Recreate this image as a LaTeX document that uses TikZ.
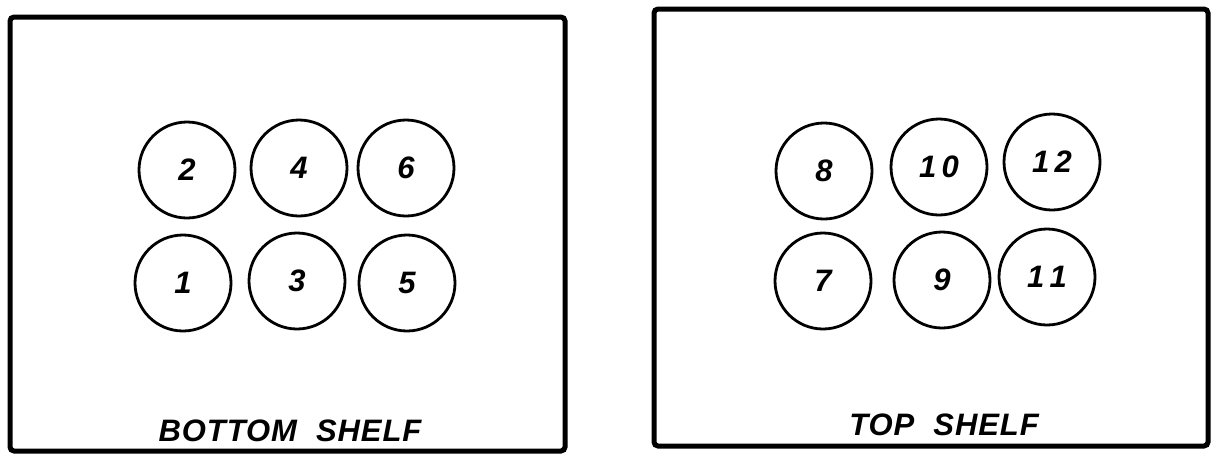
\documentclass[tikz,border=0pt]{standalone}
\usepackage{fontspec}
\newfontfamily\hand[LetterSpace=3]{Liberation Sans}
\newfontfamily\handnum[LetterSpace=6]{Liberation Sans}
\begin{document}
\begin{tikzpicture}[x=1pt,y=-1pt,
  shelf/.style={draw,line width=5pt,rounded corners=4pt},
  can/.style={draw,circle,line width=2.8pt,minimum size=96pt,inner sep=0pt,font=\handnum\bfseries\itshape\fontsize{31}{31}\selectfont},
  lbl/.style={inner sep=0pt,font=\hand\bfseries\itshape\fontsize{31}{31}\selectfont}]
\useasboundingbox (0,0) rectangle (1217,456);
% boxes
\draw[shelf] (10,17) rectangle (565,451);
\draw[shelf] (654,9) rectangle (1208,446);
% bottom shelf cans
\node[can] (c2) at (187,170) {2};
\node[can] (c4) at (299,168) {4};
\node[can] (c6) at (406,168) {6};
\node[can] (c1) at (183,283) {1};
\node[can] (c3) at (297,281) {3};
\node[can] (c5) at (407,283) {5};
% top shelf cans
\node[can] (c8) at (824,171) {8};
\node[can] (c10) at (939,167) {1\,0};
\node[can] (c12) at (1052,162) {1\,2};
\node[can] (c7) at (823,281) {7};
\node[can] (c9) at (942,280) {9};
\node[can] (c11) at (1047,277) {1\,1};
% labels
\node[lbl] (lb) at (290,431) {BOTTOM\ \ SHELF};
\node[lbl] (lt) at (944,425) {TOP\ \ SHELF};
\end{tikzpicture}
\end{document}
